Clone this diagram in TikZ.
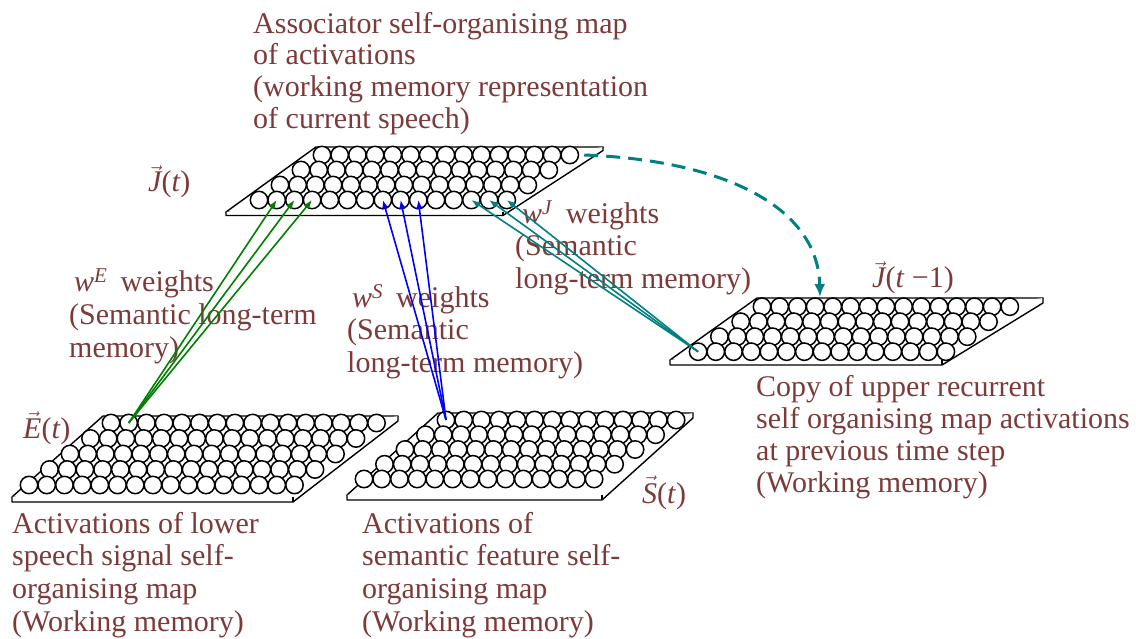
\documentclass[tikz,border=0pt]{standalone}
\usepackage{fontspec}
\setmainfont{Liberation Serif}
\usetikzlibrary{arrows.meta}
\definecolor{txt}{RGB}{125,58,58}
\definecolor{tealc}{RGB}{0,128,128}
\definecolor{greenc}{RGB}{0,128,0}
\definecolor{bluec}{RGB}{0,0,255}
\newcommand\mygrid[7]{% name, x0, y0, cols, rows, dy, shift
  \foreach \r in {1,...,#5}{
    \foreach \c in {1,...,#4}{
      \node[cell] (#1-\r-\c) at ({#2+(\c-1)*17.7-(\r-1)*#7},{#3+(\r-1)*#6}) {};
    }
  }
}
\newcommand\myplate[7]{% TLx TLy TRx BRx BRy BLx thickness
  \draw[plate] (#1,#2) -- (#3,#2) -- (#4,#5) -- (#6,#5) -- cycle;
  \draw[plate] (#6,#5) -- (#6,#5+#7) -- (#4,#5+#7) -- (#3,#2+#7) -- (#3,#2);
  \draw[plate] (#4,#5) -- (#4,#5+#7);
}
\newcommand\vlab[1]{\ensuremath{\vec{\mbox{\itshape #1}}}}
\tikzset{
  cell/.style={circle, draw=black, fill=white, line width=1.5, minimum size=17.4, inner sep=0},
  plate/.style={draw=black, fill=white, line width=1.4, line join=round},
  lab/.style={anchor=north west, inner sep=0, align=left, text=txt},
  vl/.style={anchor=base west, inner sep=0, text=txt, font=\fontsize{30}{32}\selectfont},
  arrE/.style={draw=greenc, line width=1.6, -{Latex[length=9,width=7]}},
  arrS/.style={draw=bluec, line width=1.6, -{Latex[length=9,width=7]}},
  arrJ/.style={draw=tealc, line width=1.6, -{Latex[length=9,width=7]}},
  copyarr/.style={draw=tealc, line width=3, dash pattern=on 14 off 8, -{Latex[length=13,width=11]}}
}
\begin{document}
\begin{tikzpicture}[x=1pt,y=-1pt]
\useasboundingbox (0,0) rectangle (1136,639);
% plates
\myplate{316}{147}{603}{503}{212}{226}{3.5}
\myplate{103}{416}{398}{293}{497}{12}{5}
\myplate{438}{413}{693}{602}{495}{347}{5}
\myplate{757}{298}{1043}{942}{360}{670}{5}
% grids
\mygrid{J}{322}{155}{15}{4}{15}{21}
\mygrid{E}{111}{423}{16}{5}{15.5}{20.5}
\mygrid{S}{446}{420}{14}{5}{14.75}{20.5}
\mygrid{P}{762}{306.7}{15}{4}{15}{21.3}
% labels
\node[lab, font=\fontsize{30}{31.8}\selectfont] (top) at (253,{33-22.3}) {\strut Associator self-organising map\\of activations\\(working memory representation\\of current speech)};
\node[vl] (lJ) at (148,192) {\vlab{J}(\textit{t})};
\node[vl] (lE) at (23,438) {\vlab{E}(\textit{t})};
\node[vl] (lS) at (642,503) {\vlab{S}(\textit{t})};
\node[vl] (lP) at (872,288) {\vlab{J}(\textit{t} −1)};
\node[lab, font=\fontsize{30}{33}\selectfont] (wE) at (69,{291-23.1}) {\strut\hspace{5pt}\textit{w}\textsuperscript{\textit{E}}\hspace{13pt}weights\\(Semantic long-term\\memory)};
\node[lab, font=\fontsize{30}{32.5}\selectfont] (wS) at (347,{307-22.75}) {\strut\hspace{5pt}\textit{w}\textsuperscript{\textit{S}}\hspace{13pt}weights\\(Semantic\\long-term memory)};
\node[lab, font=\fontsize{30}{32.5}\selectfont] (wJ) at (515,{223-22.75}) {\strut\hspace{7pt}\textit{w}\textsuperscript{\textit{J}}\hspace{13pt}weights\\(Semantic\\long-term memory)};
\node[lab, font=\fontsize{30}{32.7}\selectfont] (bE) at (12,{533-22.9}) {\strut Activations of lower\\speech signal self-\\organising map\\(Working memory)};
\node[lab, font=\fontsize{30}{32.7}\selectfont] (bS) at (362,{533-22.9}) {\strut Activations of\\semantic feature self-\\organising map\\(Working memory)};
\node[lab, font=\fontsize{30}{32}\selectfont] (bP) at (756,{396-22.4}) {\strut Copy of upper recurrent\\self organising map activations\\at previous time step\\(Working memory)};
% arrows
\foreach \c in {2,3,4} \draw[arrE] (E-1-2.center) -- (J-4-\c.center);
\foreach \c in {8,9,10} \draw[arrS] (S-1-1.center) -- (J-4-\c.center);
\foreach \c in {13,14,15} \draw[arrJ] (P-4-1.center) -- (J-4-\c.center);
\coordinate (dashend) at (820,297);
\draw[copyarr] ([xshift=5]J-1-15.east) .. controls (720,160) and (818,205) .. (dashend);
\end{tikzpicture}
\end{document}
